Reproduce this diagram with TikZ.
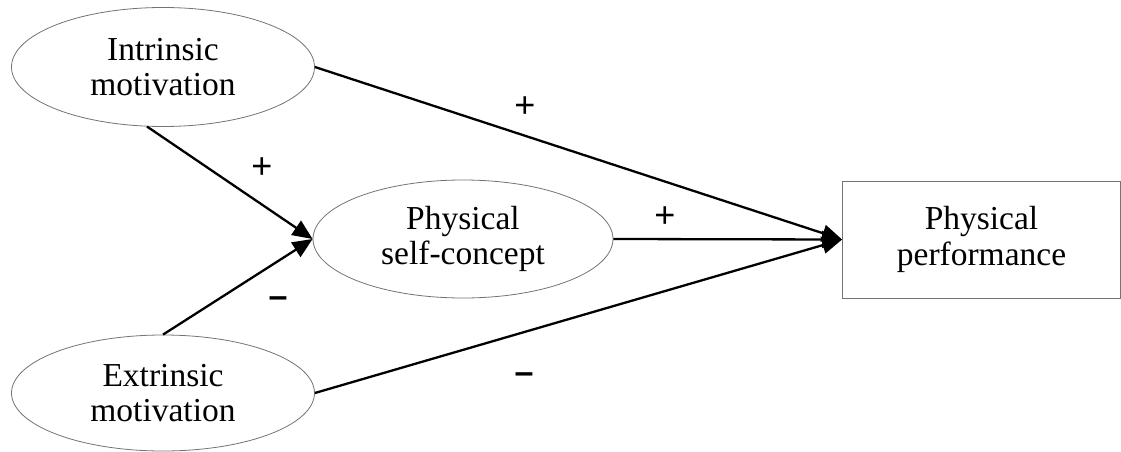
\documentclass[tikz,border=0pt]{standalone}
\usepackage{fontspec}
\setmainfont{Liberation Serif}
\newfontfamily\signfont{Liberation Sans}
\usetikzlibrary{shapes.geometric,arrows.meta}
\begin{document}
\begin{tikzpicture}[x=1pt,y=-1pt,
  latent/.style={ellipse,draw=black!55,line width=0.8pt,inner sep=0pt,
    minimum width=303pt,minimum height=119pt,align=center,
    font=\fontsize{33.5}{35.5}\selectfont},
  observed/.style={rectangle,draw=black!55,line width=0.8pt,inner sep=0pt,
    minimum width=278pt,minimum height=117pt,align=center,
    font=\fontsize{33.5}{35.5}\selectfont},
  path/.style={line width=2.3pt,-{Triangle[length=20pt,width=17pt]}},
  sign/.style={font=\signfont\fontsize{36}{36}\selectfont,inner sep=0pt},
  neg/.style={font=\signfont\bfseries\fontsize{34}{34}\selectfont,inner sep=0pt}]
\useasboundingbox (0,0) rectangle (1121,452);
\node[latent] (intr) at (163,67) {Intrinsic\\motivation};
\node[latent,minimum height=116pt] (extr) at (163,393) {Extrinsic\\motivation};
\node[latent,minimum width=300pt,minimum height=118pt] (psc) at (463,239) {Physical\\self-concept};
\node[observed] (pp) at (981.5,239.5) {Physical\\performance};
\draw[path] (intr.east) -- (pp.west);
\draw[path] (extr.east) -- (pp.west);
\draw[path] (psc.east) -- (pp.west);
\draw[path] (intr.255) -- (psc.west);
\draw[path] (extr.north) -- (psc.west);
\node[sign] (s1) at (525,107) {+};
\node[sign] (s2) at (262,168) {+};
\node[sign] (s3) at (665,217) {+};
\node[neg] (s4) at (278,302) {–};
\node[neg] (s5) at (524,378) {–};
\end{tikzpicture}
\end{document}
